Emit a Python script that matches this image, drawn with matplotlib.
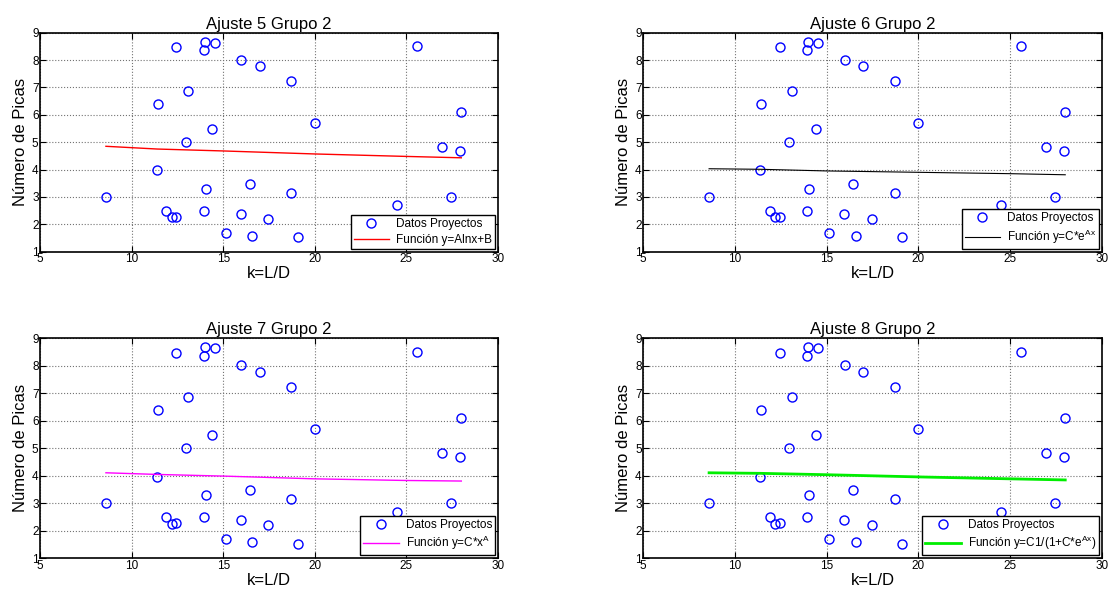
import matplotlib
matplotlib.use("Agg")
import matplotlib.pyplot as plt

plt.rcParams['font.family'] = ['Liberation Sans', 'DejaVu Sans']
plt.rcParams['mathtext.fontset'] = 'custom'
plt.rcParams['mathtext.rm'] = 'Liberation Sans'
plt.rcParams['mathtext.it'] = 'Liberation Sans'

# data points (k=L/D, numero de picas)
k_vals = [8.6, 11.45, 11.4, 11.9, 12.2, 12.45, 12.45, 12.95, 13.1, 13.95, 14.0,
          14.55, 14.05, 13.95, 14.4, 15.15, 16.0, 16.45, 15.95, 16.6, 17.0, 17.45,
          18.7, 18.7, 19.1, 20.0, 24.5, 25.6, 26.95, 27.45, 28.0, 27.95]
picas = [3.0, 6.4, 3.97, 2.5, 2.25, 2.27, 8.47, 5.02, 6.87, 8.35, 8.67,
         8.64, 3.3, 2.5, 5.48, 1.7, 8.02, 3.47, 2.38, 1.58, 7.77, 2.2,
         7.22, 3.15, 1.52, 5.7, 2.7, 8.52, 4.82, 3.0, 6.1, 4.68]

# fitted curves
fit_x = [8.6, 11.4, 15, 20, 25, 28]
fit5_y = [4.85, 4.75, 4.68, 4.57, 4.48, 4.43]
fit6_y = [4.03, 4.01, 3.95, 3.90, 3.85, 3.81]
fit7_y = [4.11, 4.05, 3.99, 3.89, 3.83, 3.81]
fit8_y = [4.11, 4.09, 4.04, 3.96, 3.89, 3.85]

titles = ['Ajuste 5 Grupo 2', 'Ajuste 6 Grupo 2', 'Ajuste 7 Grupo 2', 'Ajuste 8 Grupo 2']
fits = [fit5_y, fit6_y, fit7_y, fit8_y]
fit_labels = ['Función y=Alnx+B', 'Función y=C*e$^{\\mathrm{Ax}}$',
              'Función y=C*x$^{\\mathrm{A}}$', 'Función y=C1/(1+C*e$^{\\mathrm{Ax}}$)']
fit_colors = ['red', 'black', 'magenta', '#00ee00']
fit_widths = [1.0, 0.8, 1.0, 2.0]

fig = plt.figure(figsize=(11.14, 5.9), dpi=100)
boxes = [[0.0359, 0.5734, 0.4111, 0.3712],
         [0.5772, 0.5734, 0.412, 0.3712],
         [0.0359, 0.0537, 0.4111, 0.3729],
         [0.5772, 0.0537, 0.412, 0.3729]]

for i in range(4):
    ax = fig.add_axes(boxes[i])
    ax.plot(k_vals, picas, 'o', mfc='none', mec='blue', ms=6.5, mew=1,
            label='Datos Proyectos')
    ax.plot(fit_x, fits[i], color=fit_colors[i], lw=fit_widths[i], label=fit_labels[i])
    ax.set_xlim(5, 30)
    ax.set_ylim(1, 9)
    ax.set_xticks([5, 10, 15, 20, 25, 30])
    ax.set_yticks(range(1, 10))
    ax.grid(True, color='0.45', linestyle=':', lw=0.8)
    ax.tick_params(direction='in', top=True, right=True, length=4, labelsize=8.5, pad=1)
    for s in ax.spines.values():
        s.set_linewidth(1.2)
    ax.set_title(titles[i], fontsize=12, pad=3)
    ax.set_xlabel('k=L/D', fontsize=12, labelpad=1)
    ax.set_ylabel('Número de Picas', fontsize=12, labelpad=3)
    leg = ax.legend(loc='lower right', fontsize=8.5, fancybox=False, framealpha=1,
                    edgecolor='black', borderaxespad=0.25, handlelength=3.0,
                    borderpad=0.25, labelspacing=0.3, handletextpad=0.6)
    leg.get_frame().set_linewidth(1.0)

fig.savefig('out.png', dpi=100)
